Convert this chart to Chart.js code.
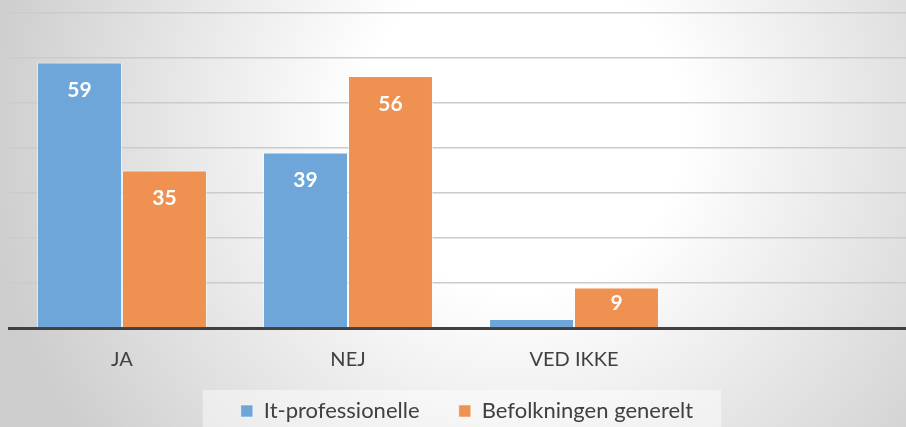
<!DOCTYPE html>
<html>
<head>
<meta charset="utf-8">
<script src="https://cdn.jsdelivr.net/npm/chart.js@4"></script>
<style>
    html, body { margin: 0; padding: 0; overflow: hidden; background: #fff; }
    #wrap { width: 913px; height: 432px; position: relative; }
</style>
</head>
<body>
<div id="wrap"><canvas id="chart"></canvas></div>
<script>
const categories = ['JA', 'NEJ', 'VED IKKE', ''];
const itProfessionelle = [59, 39, 2, null];
const befolkningen = [35, 56, 9, null];
const seriesNames = ['It-professionelle', 'Befolkningen generelt'];
const yMax = 70;
const yStep = 10;

const FONT = 'Lato, "Open Sans", sans-serif';
const TEXT = '#404040';

// Background: soft radial grey fade like the office theme
const backgroundPlugin = {
    id: 'bg',
    afterLayout(chart) {
        // nudge the legend row a bit to the right
        chart.legend.left += 6;
        chart.legend.right += 6;
    },
    beforeDraw(chart) {
        const ctx = chart.ctx;
        const w = chart.width, h = chart.height;
        const g = ctx.createRadialGradient(520, 130, 0, 520, 130, 540);
        g.addColorStop(0, '#ffffff');
        g.addColorStop(0.3, '#ffffff');
        g.addColorStop(1, '#cdcdcd');
        ctx.save();
        ctx.fillStyle = g;
        ctx.fillRect(0, 0, w, h);
        // light panel behind the legend
        const boxes = chart.legend.legendHitBoxes;
        if (boxes && boxes.length) {
            const first = boxes[0], last = boxes[boxes.length - 1];
            const x0 = first.left - 38;
            const x1 = last.left + last.width + 28;
            ctx.fillStyle = 'rgba(255,255,255,0.45)';
            ctx.fillRect(x0, 390, x1 - x0, h - 390);
        }
        ctx.restore();
    }
};

// White bold value labels inside the bar top
const valueLabels = {
    id: 'valueLabels',
    afterDatasetsDraw(chart) {
        const ctx = chart.ctx;
        ctx.save();
        ctx.font = 'bold 21px ' + FONT;
        ctx.fillStyle = '#ffffff';
        ctx.textAlign = 'center';
        ctx.textBaseline = 'middle';
        chart.data.datasets.forEach((ds, i) => {
            chart.getDatasetMeta(i).data.forEach((bar, j) => {
                const v = ds.data[j];
                if (v == null || v < 5) return;
                const y = Math.min(bar.y + 28, (bar.y + bar.base) / 2 - 4);
                ctx.fillText(v, bar.x, y);
            });
        });
        ctx.restore();
    }
};

new Chart(document.getElementById('chart'), {
    type: 'bar',
    data: {
        labels: categories,
        datasets: [{
            label: seriesNames[0],
            data: itProfessionelle,
            backgroundColor: '#6fa6d9',
            borderColor: 'rgba(255,255,255,0.5)',
            borderWidth: 1
        }, {
            label: seriesNames[1],
            data: befolkningen,
            backgroundColor: '#ef9150',
            borderColor: 'rgba(255,255,255,0.5)',
            borderWidth: 1
        }]
    },
    options: {
        responsive: true,
        maintainAspectRatio: false,
        animation: false,
        categoryPercentage: 0.752,
        barPercentage: 1,
        layout: { padding: { left: 9, right: 0, top: 13, bottom: 0 } },
        plugins: {
            legend: {
                position: 'bottom',
                labels: {
                    boxWidth: 12,
                    boxHeight: 12,
                    padding: 28,
                    color: TEXT,
                    font: { family: FONT, size: 22 },
                    generateLabels(chart) {
                        const items = Chart.defaults.plugins.legend.labels.generateLabels(chart);
                        // a little extra room between the two entries
                        items[0].text += '  ';
                        return items;
                    }
                }
            },
            tooltip: { enabled: false }
        },
        scales: {
            x: {
                grid: { display: false, drawTicks: false },
                border: { display: true, color: '#404040', width: 3 },
                ticks: {
                    color: TEXT,
                    padding: 20,
                    font: { family: FONT, size: 20 }
                },
                afterFit(scale) { scale.height = 44; }
            },
            y: {
                min: 0,
                max: yMax,
                ticks: { display: false, stepSize: yStep },
                grid: { color: '#cbcbcb', lineWidth: 1.5, drawTicks: false },
                border: { display: false }
            }
        }
    },
    plugins: [backgroundPlugin, valueLabels]
});
</script>
</body>
</html>
